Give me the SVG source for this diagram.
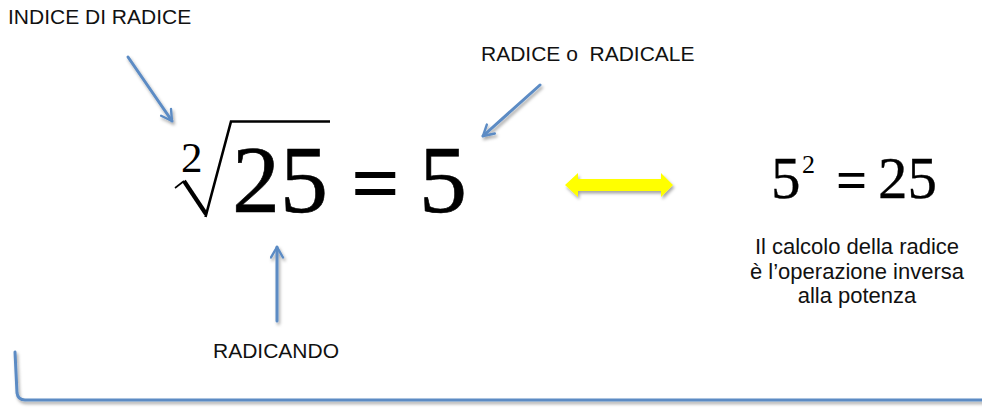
<svg xmlns="http://www.w3.org/2000/svg" width="982" height="408" viewBox="0 0 982 408">
<style>
.lbl{font-family:"Liberation Sans",Arial,sans-serif;font-size:21px;fill:#111}
.note{font-family:"Liberation Sans",Arial,sans-serif;font-size:22px;fill:#111;text-anchor:middle}
.conn{stroke:#5B8BC4;stroke-width:3;fill:none;stroke-linecap:round}
</style>
<defs>
<marker id="ah" viewBox="0 0 10 10" refX="8" refY="5" markerWidth="5" markerHeight="5" orient="auto" markerUnits="strokeWidth">
<path d="M1,1 L8,5 L1,9" fill="none" stroke="#5B8BC4" stroke-width="1.6" stroke-linecap="round" stroke-linejoin="round"/>
</marker>
<filter id="sh" x="-10%" y="-30%" width="130%" height="180%">
<feDropShadow dx="1.5" dy="2.5" stdDeviation="1.5" flood-color="#000" flood-opacity="0.35"/>
</filter>
</defs>
<rect width="982" height="408" fill="#fff"/>

<g id="indice-label"><text class="lbl" x="8" y="24">INDICE DI RADICE</text></g>
<g id="radice-label"><text class="lbl" x="481" y="61" xml:space="preserve">RADICE o  RADICALE</text></g>
<g id="radicando-label"><text class="lbl" x="213" y="358">RADICANDO</text></g>

<g id="equation-root" font-family="Liberation Serif, Times New Roman, serif" fill="#000">
<text x="181" y="172" font-size="43">2</text>
<path d="M175,188 L184,181" stroke="#000" stroke-width="1.6" fill="none"/>
<path d="M184,181 L206,214" stroke="#000" stroke-width="4.2" fill="none"/>
<path d="M205.5,217 L231,121.5 L330,121.5" stroke="#000" stroke-width="2.6" fill="none"/>
<text x="232" y="212" font-size="96" stroke="#000" stroke-width="0.6">25</text>
<text x="351" y="212" font-size="86" font-weight="bold">=</text>
<text x="419" y="212" font-size="96" stroke="#000" stroke-width="0.6">5</text>
</g>

<g id="equation-power" font-family="Liberation Serif, Times New Roman, serif" fill="#000">
<text x="771" y="198" font-size="59" stroke="#000" stroke-width="0.3">5</text>
<text x="802" y="173" font-size="26">2</text>
<text x="836" y="198" font-size="55" font-weight="bold">=</text>
<text x="878" y="198" font-size="59" stroke="#000" stroke-width="0.3">25</text>
</g>

<g id="note">
<text class="note" x="857" y="254">Il calcolo della radice</text>
<text class="note" x="857" y="278.5">è l’operazione inversa</text>
<text class="note" x="857" y="303">alla potenza</text>
</g>

<g id="double-arrow">
<polygon points="565,185 578,173 578,179 661,179 661,173 673,185 661,197 661,191 578,191 578,197" fill="#FFFF00" filter="url(#sh)"/>
</g>

<g id="connectors" filter="url(#sh)">
<path class="conn" d="M128,57 L172,121" marker-end="url(#ah)"/>
<path class="conn" d="M540,85 L483,136" marker-end="url(#ah)"/>
<path class="conn" d="M277,321 L277,247" marker-end="url(#ah)"/>
<path class="conn" d="M15,352 L17,393 Q18,400 25,400 L984,400" stroke-width="3.5"/>
</g>
</svg>
